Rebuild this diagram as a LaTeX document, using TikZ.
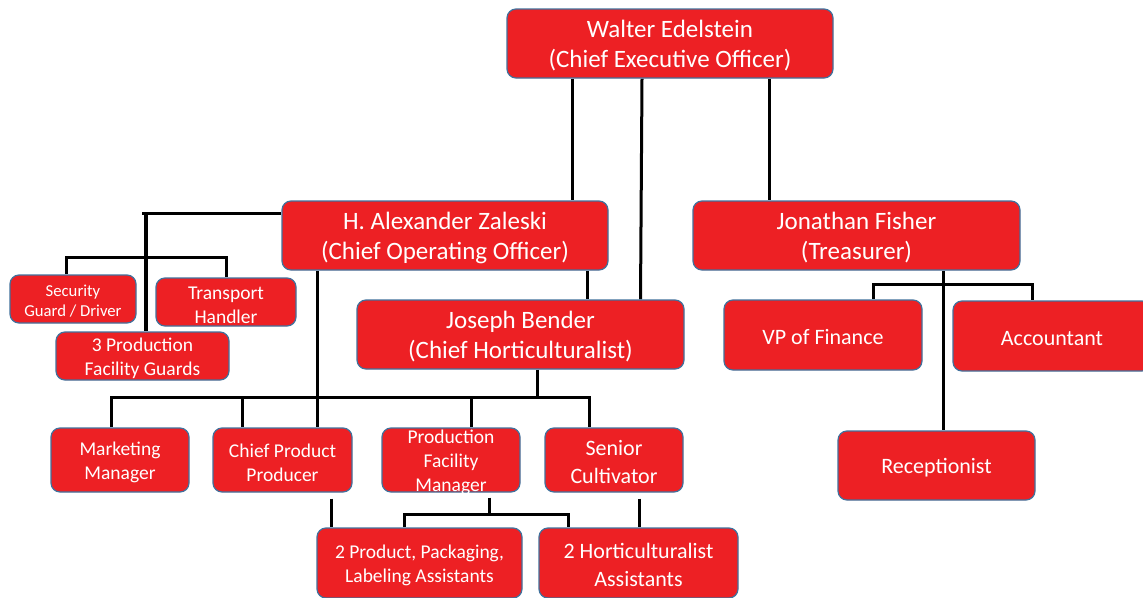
\documentclass[tikz,border=0pt]{standalone}
\usepackage{fontspec}
\setmainfont{Carlito}
\usetikzlibrary{backgrounds}
\definecolor{boxred}{HTML}{ED2024}
\definecolor{boxline}{HTML}{41719C}
\newcommand{\toppad}{\rule{0pt}{\dimexpr\fontcharht\font`\(+4pt\relax}}
\tikzset{
  box/.style 2 args={draw=boxline, line width=1.2pt, fill=boxred, rounded corners=9pt,
    text=white, align=center, inner sep=0pt, minimum width=#1, minimum height=#2},
  bigtxt/.style={font=\fontsize{25}{30}\selectfont},
  midtxt/.style={font=\fontsize{22}{28}\selectfont},
  smalltxt/.style={font=\fontsize{19.5}{24}\selectfont},
  tinytxt/.style={font=\fontsize{16.7}{20}\selectfont},
  conn/.style={draw=black, line width=3pt},
  thickconn/.style={draw=black, line width=4pt},
}
\begin{document}
\begin{tikzpicture}[x=1pt, y=-1pt]
\useasboundingbox (0,0) rectangle (1143,597);
\clip (0,0) rectangle (1143,597);

% nodes
\node[box={326pt}{69pt}, bigtxt] (ceo) at (670,43.5) {\toppad Walter Edelstein\\(Chief Executive Officer)};
\node[box={326pt}{69pt}, bigtxt] (coo) at (445,235.5) {\toppad H. Alexander Zaleski\\(Chief Operating Officer)};
\node[box={327pt}{69pt}, bigtxt] (tre) at (856.5,235.5) {\toppad Jonathan Fisher\\(Treasurer)};
\node[box={327pt}{69pt}, bigtxt] (ben) at (520.5,334.5) {\toppad Joseph Bender\\(Chief Horticulturalist)};
\node[box={126pt}{48pt}, tinytxt] (sec) at (73,299) {\toppad Security\\Guard / Driver};
\node[box={140pt}{48pt}, smalltxt] (trn) at (226,302) {\toppad Transport\\Handler};
\node[box={173pt}{48pt}, smalltxt] (grd) at (142.5,356) {\toppad 3 Production\\Facility Guards};
\node[box={198pt}{70pt}, midtxt] (vp) at (823,335) {\toppad VP of Finance};
\node[box={198pt}{70pt}, midtxt] (acc) at (1052,336) {\toppad Accountant};
\node[box={197pt}{69pt}, midtxt] (rec) at (936.5,465.5) {\toppad Receptionist};
\node[box={138pt}{64pt}, smalltxt] (mkt) at (120,460) {\toppad Marketing\\Manager};
\node[box={139pt}{64pt}, smalltxt] (cpp) at (282.5,460) {\toppad Chief Product\\Producer};
\node[box={138pt}{64pt}, smalltxt] (pfm) at (451,460) {\raisebox{-8pt}[0pt][0pt]{\begin{tabular}{@{}c@{}}Production\\Facility\\Manager\end{tabular}}};
\node[box={138pt}{64pt}, midtxt] (sc) at (614,460) {\toppad Senior\\Cultivator};
\node[box={205pt}{70pt}, smalltxt] (pp) at (419.5,563) {\toppad 2 Product, Packaging,\\Labeling Assistants};
\node[box={199pt}{70pt}, midtxt] (ha) at (638.5,563) {\toppad 2 Horticulturalist\\Assistants};

% connectors
\begin{pgfonlayer}{background}
\fill[white] (0,0) rectangle (1143,597);
\draw[conn] ([xshift=-98pt]ceo.south) -- ([xshift=127pt]coo.north);
\draw[conn] ([xshift=-28pt]ceo.south) -- ([xshift=120pt]ben.north);
\draw[conn] ([xshift=99pt]ceo.south) -- ([xshift=-87.5pt]tre.north);
\draw[conn] ([xshift=142pt]coo.south) -- ([xshift=66.5pt]ben.north);
\coordinate (gtop) at ([xshift=3.5pt]grd.north);
\draw[conn] ([yshift=22.5pt]coo.west) coordinate (cw) -- ([xshift=-4pt]gtop |- cw);
\draw[thickconn] (gtop |- cw) -- (gtop);
\draw[conn] ([xshift=-7pt]sec.north) -- ++(0,-17) -| (trn.north);
\draw[conn] ([xshift=-128pt]coo.south) -- ([xshift=34.5pt]cpp.north);
\draw[conn] ([xshift=16.5pt]ben.south) -- ++(0,28) coordinate (bb);
\draw[conn] ([xshift=-9pt]mkt.north) |- (bb) -| ([xshift=-25pt]sc.north);
\draw[conn] ([xshift=-40.5pt]cpp.north) -- ++(0,-31);
\draw[conn] ([xshift=20pt]pfm.north) -- ++(0,-31);
\draw[conn] ([xshift=48.5pt,yshift=-6pt]cpp.south) -- ([xshift=-88.5pt]pp.north);
\draw[conn] ([xshift=38pt,yshift=-5pt]pfm.south) -- ++(0,17) coordinate (pb);
\draw[conn] ([xshift=-15.5pt]pp.north) |- (pb) -| ([xshift=-70.5pt]ha.north);
\draw[conn] ([xshift=25pt,yshift=-6pt]sc.south) -- ([xshift=0.5pt]ha.north);
\draw[conn] ([xshift=86.5pt]tre.south) -- ([xshift=6.5pt]rec.north);
\draw[conn] ([xshift=50pt]vp.north) -- ++(0,-15) -| ([xshift=-20pt]acc.north);
\end{pgfonlayer}
\end{tikzpicture}
\end{document}
